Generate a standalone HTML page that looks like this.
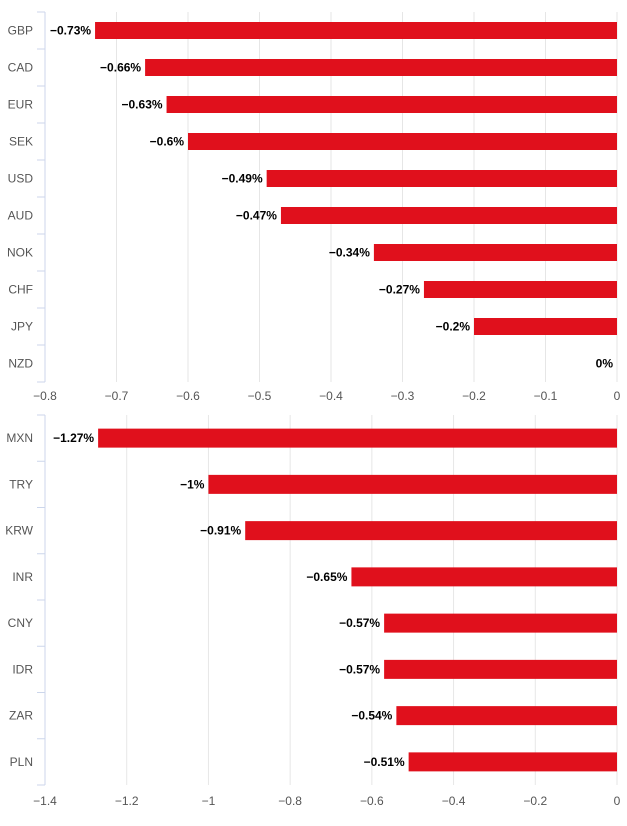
<!DOCTYPE html>
<html><head><meta charset="utf-8"><style>
body{margin:0;background:#fff;font-family:"Liberation Sans",sans-serif}
svg text{font-family:"Liberation Sans",sans-serif}
</style></head><body>
<svg id="c" width="627" height="821"></svg>
<script>
const cats1=["GBP","CAD","EUR","SEK","USD","AUD","NOK","CHF","JPY","NZD"];
const vals1=[-0.73,-0.66,-0.63,-0.6,-0.49,-0.47,-0.34,-0.27,-0.2,0];
const ticks1=[-0.8,-0.7,-0.6,-0.5,-0.4,-0.3,-0.2,-0.1,0];
const cats2=["MXN","TRY","KRW","INR","CNY","IDR","ZAR","PLN"];
const vals2=[-1.27,-1,-0.91,-0.65,-0.57,-0.57,-0.54,-0.51];
const ticks2=[-1.4,-1.2,-1,-0.8,-0.6,-0.4,-0.2,0];
const svg=document.getElementById('c');
const NS="http://www.w3.org/2000/svg";
function mk(t,a,txt){const e=document.createElementNS(NS,t);for(const k in a)e.setAttribute(k,a[k]);if(txt!==undefined)e.textContent=txt;svg.appendChild(e);return e;}
function fmt(v){return v===0?"0":"\u2212"+String(Math.abs(v));}
function chart(cats,vals,ticks,top,bottom,barH,labelY,id){
  const L=45,R=617,min=ticks[0];
  const x=v=>L+(v-min)/(0-min)*(R-L);
  const band=(bottom-top)/cats.length;
  ticks.forEach(t=>{
    const g=mk('line',{x1:x(t),x2:x(t),y1:top,y2:bottom,stroke:'#e6e6e6','stroke-width':1});
    
    
    const tl=mk('text',{x:x(t),y:labelY,'text-anchor':'middle','font-size':12,fill:'#555'},fmt(t));
    
    
  });
  const ax=mk('line',{x1:L,x2:L,y1:top,y2:bottom,stroke:'#ccd6eb','stroke-width':1});
  
  
  for(let i=0;i<=cats.length;i++){
    const tk=mk('line',{x1:L-8,x2:L,y1:top+i*band,y2:top+i*band,stroke:'#ccd6eb'});
    
    
  }
  cats.forEach((c,i)=>{
    const cy=top+band*(i+0.5),v=vals[i];
    const cl=mk('text',{x:33,y:cy+4,'text-anchor':'end','font-size':12,fill:'#555'},c);
    
    
    const b=mk('rect',{x:x(v),y:cy-barH/2,width:x(0)-x(v),height:barH,fill:'#e0101c'});
    
    
    const vl=mk('text',{x:x(v)-4,y:cy+4,'text-anchor':'end','font-size':12,'font-weight':'bold',fill:'#000'},fmt(v)+"%");
    
    
  });
}
chart(cats1,vals1,ticks1,12,382,17,400,'top-chart');
chart(cats2,vals2,ticks2,415,785,19,805,'bottom-chart');
</script>
</body></html>
